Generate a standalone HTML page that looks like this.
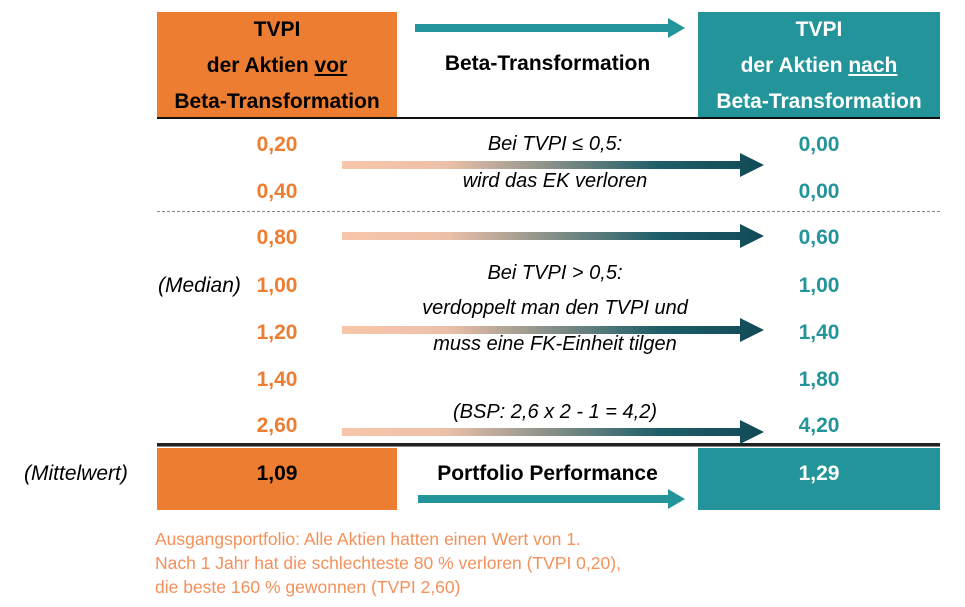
<!DOCTYPE html>
<html><head><meta charset="utf-8"><style>
body{margin:0;width:965px;height:607px;background:#fff;position:relative;overflow:hidden;font-family:"Liberation Sans",sans-serif}
.a{position:absolute}
.hd{font-weight:bold;font-size:21px;text-align:center;line-height:36px}
.num{position:absolute;font-weight:bold;font-size:21px;width:80px;text-align:center}
.o{color:#ed7d31}.t{color:#23959a}
.it{position:absolute;font-style:italic;font-size:20px;text-align:center;width:360px;left:375px}
</style></head><body>
<div class="a hd" style="left:157px;top:12px;width:240px;height:106px;background:#ed7d31;color:#000">TVPI<br>der Aktien <u>vor</u><br>Beta-Transformation</div>
<div class="a hd" style="left:698px;top:12px;width:242px;height:106px;background:#23959a;color:#fff">TVPI<br>der Aktien <u>nach</u><br>Beta-Transformation</div>
<div class="a hd" style="left:397px;top:46px;width:301px;color:#000">Beta-Transformation</div>
<div class="a" style="left:157px;top:117px;width:783px;height:2px;background:#111"></div>
<div class="a" style="left:157px;top:211px;width:783px;border-top:1px dashed #888"></div>
<div class="a" style="left:157px;top:443px;width:783px;height:3px;background:#222;border-bottom:1px solid #888"></div>
<svg class="a" style="left:0;top:0" width="965" height="607">
<defs><linearGradient id="g" x1="0" x2="1"><stop offset="0" stop-color="#f8c6aa"/><stop offset="0.25" stop-color="#ecc0a8"/><stop offset="0.75" stop-color="#1e5e69"/><stop offset="1" stop-color="#124a57"/></linearGradient></defs>
<polygon points="415,24 668,24 668,18 685,28 668,38 668,32 415,32" fill="#23959a"/>
<polygon points="418,495 668,495 668,489 685,499 668,509 668,503 418,503" fill="#23959a"/>
<g fill="url(#g)">
<polygon points="342,161 740,161 740,153 764,165 740,177 740,169 342,169"/>
<polygon points="342,232 740,232 740,224 764,236 740,248 740,240 342,240"/>
<polygon points="342,326 740,326 740,318 764,330 740,342 740,334 342,334"/>
<polygon points="342,428 740,428 740,420 764,432 740,444 740,436 342,436"/>
</g></svg>
<div class="num o" style="left:237px;top:133px">0,20</div>
<div class="num o" style="left:237px;top:180px">0,40</div>
<div class="num o" style="left:237px;top:226px">0,80</div>
<div class="num o" style="left:237px;top:274px">1,00</div>
<div class="num o" style="left:237px;top:321px">1,20</div>
<div class="num o" style="left:237px;top:368px">1,40</div>
<div class="num o" style="left:237px;top:414px">2,60</div>
<div class="num t" style="left:779px;top:133px">0,00</div>
<div class="num t" style="left:779px;top:180px">0,00</div>
<div class="num t" style="left:779px;top:226px">0,60</div>
<div class="num t" style="left:779px;top:274px">1,00</div>
<div class="num t" style="left:779px;top:321px">1,40</div>
<div class="num t" style="left:779px;top:368px">1,80</div>
<div class="num t" style="left:779px;top:414px">4,20</div>
<div class="a" style="left:158px;top:274px;font-style:italic;font-size:21px">(Median)</div>
<div class="it" style="top:133px">Bei TVPI ≤ 0,5:</div>
<div class="it" style="top:170px">wird das EK verloren</div>
<div class="it" style="top:262px">Bei TVPI &gt; 0,5:</div>
<div class="it" style="top:297px">verdoppelt man den TVPI und</div>
<div class="it" style="top:333px">muss eine FK-Einheit tilgen</div>
<div class="it" style="top:401px">(BSP: 2,6 x 2 - 1 = 4,2)</div>
<div class="a" style="left:157px;top:448px;width:240px;height:62px;background:#ed7d31"></div>
<div class="a" style="left:698px;top:448px;width:242px;height:62px;background:#23959a"></div>
<div class="num" style="left:237px;top:462px;color:#000">1,09</div>
<div class="num" style="left:779px;top:462px;color:#fff">1,29</div>
<div class="a" style="left:397px;top:462px;width:301px;text-align:center;font-weight:bold;font-size:21px">Portfolio Performance</div>
<div class="a" style="left:24px;top:462px;font-style:italic;font-size:21px">(Mittelwert)</div>
<div class="a" style="left:155px;top:527px;color:#f4915a;font-size:17.5px;line-height:24px">Ausgangsportfolio: Alle Aktien hatten einen Wert von 1.<br>Nach 1 Jahr hat die schlechteste 80 % verloren (TVPI 0,20),<br>die beste 160 % gewonnen (TVPI 2,60)</div>
</body></html>
